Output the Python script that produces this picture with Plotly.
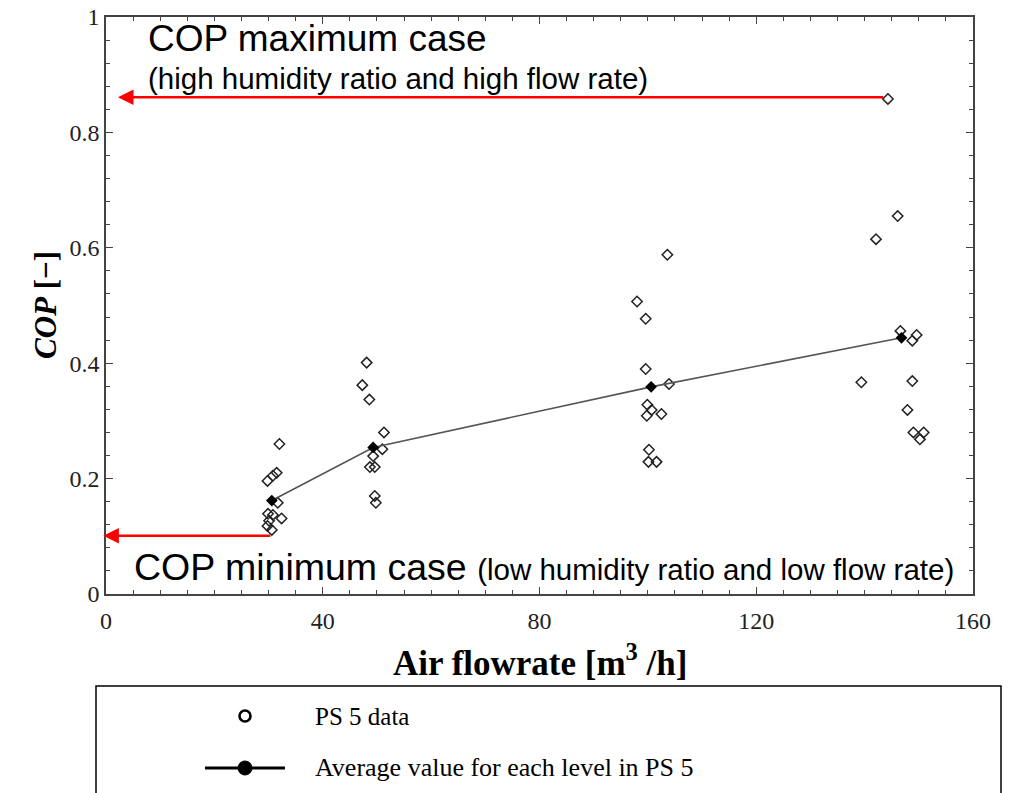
import plotly.graph_objects as go

# ---- data ----
flow_ps5 = [32.0, 31.5, 30.8, 29.8, 31.7, 29.9, 30.8, 32.4, 30.1, 29.8, 30.6,
            48.1, 47.3, 48.6, 51.3, 51.0, 49.3, 48.7, 49.6, 49.6, 49.8,
            103.6, 98.0, 99.6, 99.6, 103.9, 99.9, 100.7, 99.8, 102.5, 100.2, 100.1, 101.6,
            144.3, 146.1, 142.1, 146.6, 149.6, 148.8, 139.4, 148.8, 147.9, 149.0, 150.9, 150.2]
cop_ps5 = [0.260, 0.210, 0.205, 0.196, 0.158, 0.139, 0.137, 0.131, 0.127, 0.118, 0.111,
           0.401, 0.362, 0.337, 0.280, 0.251, 0.239, 0.220, 0.220, 0.170, 0.158,
           0.588, 0.507, 0.477, 0.390, 0.364, 0.328, 0.319, 0.309, 0.312, 0.250, 0.229, 0.229,
           0.858, 0.655, 0.615, 0.456, 0.449, 0.439, 0.367, 0.369, 0.319, 0.280, 0.280, 0.268]
flow_mean = [30.6, 49.3, 100.6, 146.8]
cop_mean = [0.162, 0.254, 0.359, 0.444]

x_ticks = [0, 40, 80, 120, 160]
y_ticks = [0, 0.2, 0.4, 0.6, 0.8, 1]

# annotation arrows (tip, tail, level)
max_arrow = dict(tip=2.2, tail=143.7, level=0.861)
min_arrow = dict(tip=-0.5, tail=30.6, level=0.101)

SERIF = "Liberation Serif, Times New Roman, serif"
SANS = "Liberation Sans, Arial, sans-serif"

fig = go.Figure()
fig.add_trace(go.Scatter(
    x=flow_ps5, y=cop_ps5, mode="markers", name="PS 5 data",
    marker=dict(symbol="diamond-open", size=8, color="#222222", line=dict(width=1.5, color="#222222")),
    showlegend=False))
fig.add_trace(go.Scatter(
    x=flow_mean, y=cop_mean, mode="lines+markers", name="Average value for each level in PS 5",
    line=dict(color="#555555", width=1.6),
    marker=dict(symbol="diamond", size=9, color="#000000"),
    showlegend=False))

axis_common = dict(showline=True, linecolor="#444444", linewidth=1.6, mirror="ticks",
                   ticks="inside", ticklen=7, tickwidth=1.3, tickcolor="#444444",
                   showgrid=False, zeroline=False, automargin=False,
                   tickfont=dict(family=SERIF, size=24, color="#222222"))

fig.update_xaxes(range=[0, 160], tickvals=x_ticks, ticklabelstandoff=4,
                 minor=dict(dtick=5, ticks="inside", ticklen=4, tickcolor="#444444", showgrid=False),
                 **axis_common)
fig.update_yaxes(range=[0, 1], tickvals=y_ticks,
                 minor=dict(dtick=0.04, ticks="inside", ticklen=4, tickcolor="#444444", showgrid=False),
                 **axis_common)

# pixel -> paper helpers (plot area 106..973 x, 17..594 y)
L, R, T, B = 106, 973, 17, 594
def px(xp):
    return (xp - L) / (R - L)
def py(yp):
    return (B - yp) / (B - T)

ann = []
# arrows
for a in (max_arrow, min_arrow):
    ann.append(dict(x=a["tip"], y=a["level"], ax=a["tail"], ay=a["level"],
                    xref="x", yref="y", axref="x", ayref="y", text="",
                    showarrow=True, arrowhead=2, arrowsize=1.2, arrowwidth=2.6,
                    arrowcolor="#ff0000", standoff=0, startstandoff=0))
# case texts
ann.append(dict(x=px(146), y=py(38), xref="paper", yref="paper", xanchor="left", yanchor="middle",
                text="COP maximum case", showarrow=False,
                font=dict(family=SANS, size=37, color="#000000")))
ann.append(dict(x=px(146), y=py(78), xref="paper", yref="paper", xanchor="left", yanchor="middle",
                text="(high humidity ratio and high flow rate)", showarrow=False,
                font=dict(family=SANS, size=29.5, color="#000000")))
ann.append(dict(x=px(132), y=py(567), xref="paper", yref="paper", xanchor="left", yanchor="middle",
                text="COP minimum case <span style='font-size:29.5px'>(low humidity ratio and low flow rate)</span>",
                showarrow=False, font=dict(family=SANS, size=37.5, color="#000000")))
# axis titles
ann.append(dict(x=px(540), y=py(660), xref="paper", yref="paper", xanchor="center", yanchor="middle",
                text="<b>Air flowrate [m<sup>3</sup> /h]</b>", showarrow=False,
                font=dict(family=SERIF, size=35, color="#000000")))
ann.append(dict(x=px(45), y=py(305), xref="paper", yref="paper", xanchor="center", yanchor="middle",
                text="<b><i>COP</i></b> <b>[−]</b>", textangle=-90, showarrow=False,
                font=dict(family=SERIF, size=31, color="#000000")))
# legend texts
ann.append(dict(x=px(313), y=py(716), xref="paper", yref="paper", xanchor="left", yanchor="middle",
                text="PS 5 data", showarrow=False,
                font=dict(family=SERIF, size=25, color="#000000")))
ann.append(dict(x=px(313), y=py(767), xref="paper", yref="paper", xanchor="left", yanchor="middle",
                text="Average value for each level in PS 5", showarrow=False,
                font=dict(family=SERIF, size=26, color="#000000")))

shapes = []
# legend box
shapes.append(dict(type="rect", xref="paper", yref="paper",
                   x0=px(96), x1=px(1001), y0=py(797), y1=py(686),
                   line=dict(color="#000000", width=1.5), fillcolor="rgba(0,0,0,0)"))
# legend sample: open circle
r = 5.5
shapes.append(dict(type="circle", xref="paper", yref="paper",
                   x0=px(245 - r), x1=px(245 + r), y0=py(716 + r), y1=py(716 - r),
                   line=dict(color="#000000", width=2.6), fillcolor="white"))
# legend sample: line with filled circle
shapes.append(dict(type="line", xref="paper", yref="paper",
                   x0=px(205), x1=px(285), y0=py(768), y1=py(768),
                   line=dict(color="#000000", width=3)))
r2 = 7
shapes.append(dict(type="circle", xref="paper", yref="paper",
                   x0=px(245 - r2), x1=px(245 + r2), y0=py(768 + r2), y1=py(768 - r2),
                   line=dict(color="#000000", width=1), fillcolor="#000000"))

fig.update_layout(
    width=1015, height=793,
    margin=dict(l=L, r=1015 - R, t=T, b=793 - B),
    paper_bgcolor="white", plot_bgcolor="white",
    annotations=ann, shapes=shapes, showlegend=False)

fig.write_html("out.html")
